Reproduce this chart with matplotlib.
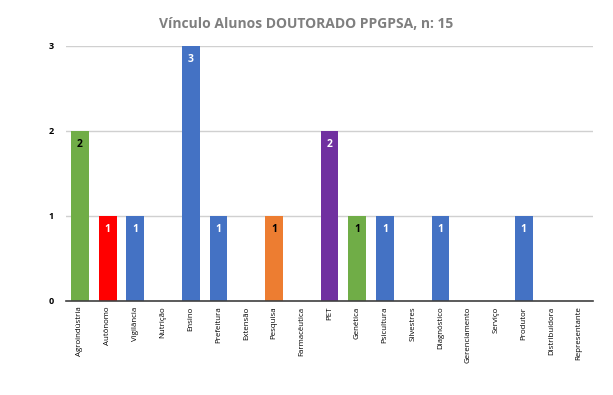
"""Vinculo alunos doutorado PPGPSA - bar chart."""

import matplotlib

matplotlib.use("Agg")
import matplotlib.pyplot as plt

categories = [
    "Agroindústria", "Autônomo", "Vigilância", "Nutrição", "Ensino",
    "Prefeitura", "Extensão", "Pesquisa", "Farmacêutica", "PET",
    "Genética", "Psicultura", "Silvestres", "Diagnóstico", "Gerenciamento",
    "Serviço", "Produtor", "Distribuidora", "Representante",
]
values = [2, 1, 1, 0, 3, 1, 0, 1, 0, 2, 1, 1, 0, 1, 0, 0, 1, 0, 0]
bar_colours = [
    "#70AD47", "#FF0000", "#4472C4", "#4472C4", "#4472C4",
    "#4472C4", "#4472C4", "#ED7D31", "#4472C4", "#7030A0",
    "#70AD47", "#4472C4", "#4472C4", "#4472C4", "#4472C4",
    "#4472C4", "#4472C4", "#4472C4", "#4472C4",
]
yticks = [0, 1, 2, 3]
title = "Vínculo Alunos DOUTORADO PPGPSA, n: 15"

# dark text on light bars
_DARK_TEXT = {"#70AD47", "#ED7D31"}

plt.rcParams["font.family"] = ["Open Sans", "DejaVu Sans"]

fig = plt.figure(figsize=(6.13, 3.95), dpi=100)
ax = fig.add_axes([0.1077, 0.238, 0.8597, 0.6456])

x = list(range(len(categories)))
ax.bar(x, values, width=0.64, color=bar_colours, zorder=3)

for xi, v, c in zip(x, values, bar_colours):
    if v <= 0:
        continue
    txt_colour = "black" if c in _DARK_TEXT else "white"
    ax.annotate(f"{v}", (xi, v), xytext=(0, -10), textcoords="offset points",
                ha="center", va="center", fontsize=7.5, fontweight="bold",
                color=txt_colour, zorder=4)

ax.set_xlim(-0.5, len(categories) - 0.5)
ax.set_ylim(0, 3)
ax.set_yticks(yticks)
ax.set_yticklabels([str(t) for t in yticks], fontsize=6.5, fontweight="bold")
ax.set_xticks(x)
ax.set_xticklabels(categories, rotation=90, fontsize=5.7, ha="center", va="top")

ax.grid(axis="y", color="#D0D0D0", linewidth=1, zorder=0)
for side in ("top", "right", "left"):
    ax.spines[side].set_visible(False)
ax.spines["bottom"].set_color("#404040")
ax.spines["bottom"].set_linewidth(1.2)
ax.spines["bottom"].set_zorder(5)
ax.tick_params(axis="x", length=0, pad=4)
ax.tick_params(axis="y", length=0, pad=9)

fig.suptitle(title, x=0.5, y=0.958, fontsize=10, fontweight="bold", color="#7F7F7F")

fig.savefig("out.png", dpi=100)
